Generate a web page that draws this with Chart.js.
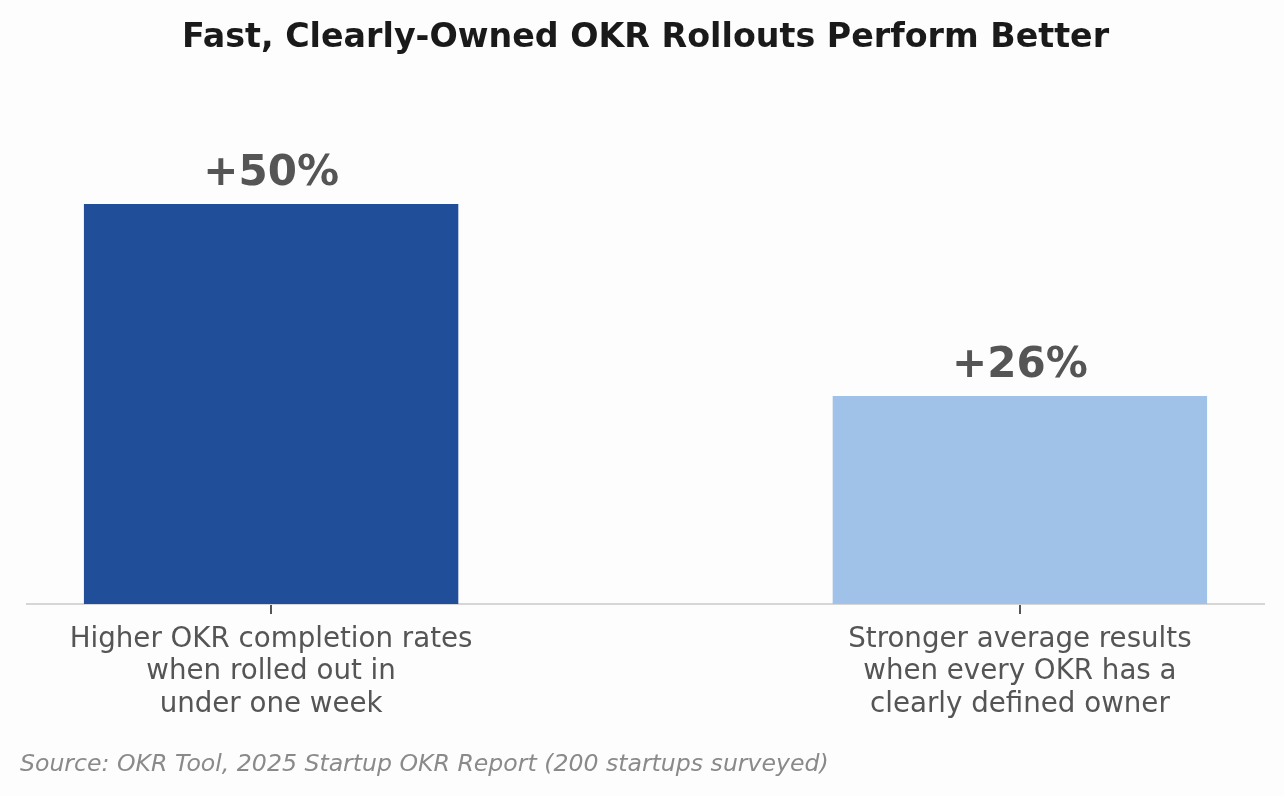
<!DOCTYPE html>
<html>
<head>
<meta charset="utf-8">
<script src="https://cdn.jsdelivr.net/npm/chart.js@4/dist/chart.umd.min.js"></script>
<style>
html,body{margin:0;padding:0;background:#fdfdfd;}
#wrap{width:1284px;height:796px;position:relative;}
</style>
</head>
<body>
<div id="wrap"><canvas id="c" width="1284" height="796"></canvas></div>
<script>
const categories = [
  "Higher OKR completion rates\nwhen rolled out in\nunder one week",
  "Stronger average results\nwhen every OKR has a\nclearly defined owner"
];
const positions = [0, 1];
const values = [50, 26];
const valueLabels = ["+50%", "+26%"];
const barColors = ["#214e98", "#a0c2e8"];
const titleText = "Fast, Clearly-Owned OKR Rollouts Perform Better";
const sourceText = "Source: OKR Tool, 2025 Startup OKR Report (200 startups surveyed)";

const FONT = "'DejaVu Sans', sans-serif";

const valueLabelPlugin = {
  id: 'valueLabels',
  afterDatasetsDraw(chart) {
    const ctx = chart.ctx;
    const meta = chart.getDatasetMeta(0);
    ctx.save();
    ctx.font = "bold 42px " + FONT;
    ctx.fillStyle = "#555555";
    ctx.textAlign = "center";
    ctx.textBaseline = "alphabetic";
    meta.data.forEach((el, i) => {
      ctx.fillText(valueLabels[i], el.x, el.y - 19);
    });
    ctx.restore();
  }
};

const sourcePlugin = {
  id: 'source',
  afterDraw(chart) {
    const ctx = chart.ctx;
    ctx.save();
    ctx.font = "italic 23.6px " + FONT;
    ctx.fillStyle = "#8a8a8a";
    ctx.textAlign = "left";
    ctx.textBaseline = "middle";
    ctx.fillText(sourceText, 20, 765);
    ctx.restore();
  }
};

new Chart(document.getElementById('c'), {
  type: 'bar',
  data: {
    datasets: [{
      data: positions.map((p, i) => ({x: p, y: values[i]})),
      backgroundColor: barColors,
      borderWidth: 0,
      barPercentage: 0.5,
      categoryPercentage: 1.0
    }]
  },
  options: {
    responsive: false,
    animation: false,
    devicePixelRatio: 1,
    layout: { padding: { left: 27, right: 20, top: 0, bottom: 0 } },
    plugins: {
      legend: { display: false },
      tooltip: { enabled: false },
      title: {
        display: true,
        text: titleText,
        color: "#1a1a1a",
        font: { family: FONT, size: 33.3, weight: 'bold', lineHeight: 1.2 },
        padding: { top: 18, bottom: 86 }
      }
    },
    scales: {
      x: {
        type: 'linear',
        offset: false,
        min: -0.326,
        max: 1.326,
        afterBuildTicks(scale) {
          scale.ticks = positions.map(v => ({ value: v }));
        },
        afterFit(scale) { scale.height = 192; },
        border: { display: true, color: "#d6d6d6", width: 2 },
        grid: {
          offset: false,
          drawOnChartArea: false,
          drawTicks: true,
          tickLength: 10,
          color: "#555555",
          lineWidth: 2
        },
        ticks: {
          autoSkip: false,
          maxRotation: 0,
          padding: 10,
          color: "#555555",
          font: { family: FONT, size: 27.7, lineHeight: 1.16 },
          callback(value) {
            const i = positions.indexOf(value);
            return i >= 0 ? categories[i].split("\n") : "";
          }
        }
      },
      y: {
        display: false,
        min: 0,
        max: 57.5
      }
    }
  },
  plugins: [valueLabelPlugin, sourcePlugin]
});
</script>
</body>
</html>
